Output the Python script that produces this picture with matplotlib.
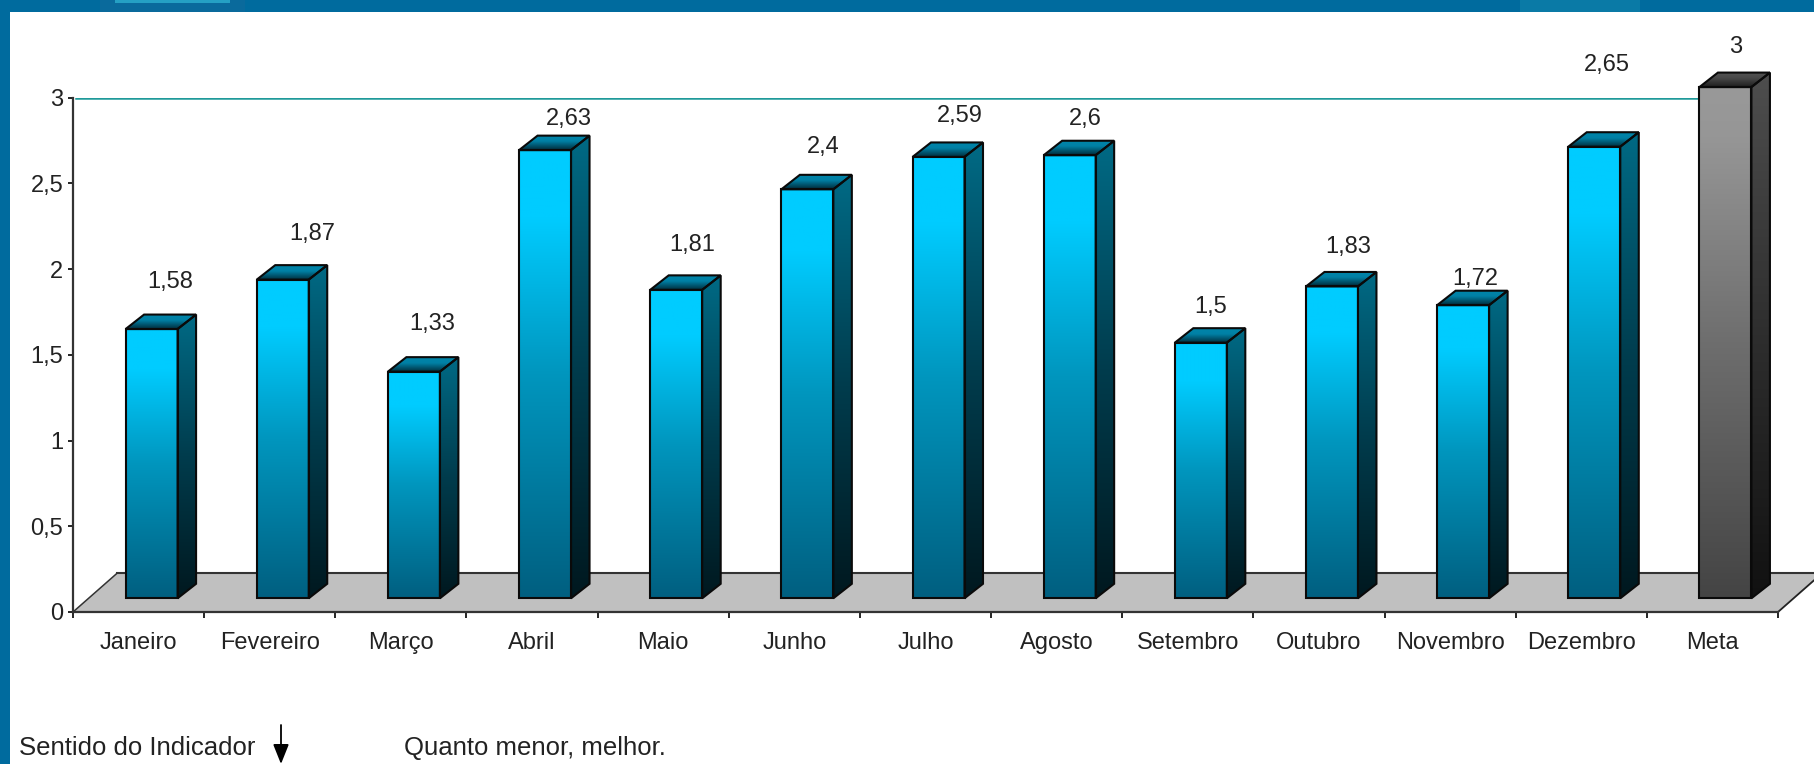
import matplotlib
matplotlib.use("Agg")
import matplotlib.pyplot as plt
import numpy as np
from matplotlib.colors import LinearSegmentedColormap
from matplotlib.patches import Polygon, Rectangle

#-------------------------------------------------------------------------------

meses = ["Janeiro", "Fevereiro", "Março", "Abril", "Maio", "Junho", "Julho",
         "Agosto", "Setembro", "Outubro", "Novembro", "Dezembro", "Meta"]
valores = [1.58, 1.87, 1.33, 2.63, 1.81, 2.4, 2.59, 2.6, 1.5, 1.83, 1.72, 2.65, 3]
rotulos = ["1,58", "1,87", "1,33", "2,63", "1,81", "2,4", "2,59", "2,6", "1,5",
           "1,83", "1,72", "2,65", "3"]
y_ticks = [0, 0.5, 1, 1.5, 2, 2.5, 3]
y_ticklabels = ["0", "0,5", "1", "1,5", "2", "2,5", "3"]
meta = 3

# Hand placed value labels, pixels from the top front edge of each bar
label_dx = [19, 29.5, 18.6, 23.5, 16, 15.6, 21, 16, 10, 16, 12, 13, 10.6]
label_dy = [47, 45.8, 47.3, 31.5, 44.8, 42, 40.6, 36.7, 35.7, 39, 26.5, 81.5, 39.8]

W, H = 1814, 764
X0, X1 = 73, 1778     # axes edges in pixels
Y0, Y3 = 612, 97.7
PX_X = (X1 - X0) / 13.
PX_Y = (Y0 - Y3) / 3.

FRAME = "#006B9E"
TEXT = "#222222"
FONT = 17

# (position, colour), 0 is the bottom of the face
blue_front = [(0, "#005F80"), (0.5, "#0096BE"), (0.85, "#00CCFF"), (1, "#00CCFF")]
blue_side = [(0, "#00181F"), (0.5, "#003C4D"), (1, "#006A85")]
blue_top = [(0, "#002C3A"), (0.6, "#0080A5"), (1, "#0086AA")]
gray_front = [(0, "#444444"), (0.5, "#6E6E6E"), (0.9, "#969696"), (1, "#999999")]
gray_side = [(0, "#111111"), (0.5, "#2E2E2E"), (1, "#4E4E4E")]
gray_top = [(0, "#1E1E1E"), (0.6, "#484848"), (1, "#555555")]

#-------------------------------------------------------------------------------

def fill_face(ax, corners, colors):
  """ Fill a polygon with a vertical gradient, low values at the bottom.
  """
  corners = np.array(corners)
  cmap = LinearSegmentedColormap.from_list("face", colors)
  grad = np.linspace(0, 1, 256).reshape(-1, 1)
  extent = [corners[:,0].min(), corners[:,0].max(),
            corners[:,1].min(), corners[:,1].max()]
  img = ax.imshow(grad, origin="lower", extent=extent, cmap=cmap, aspect="auto",
                  zorder=3, interpolation="bilinear")
  poly = Polygon(corners, closed=True, fc="none", ec="#0A0A0A", lw=1.5, zorder=3.1,
                 joinstyle="miter", clip_on=False)
  ax.add_patch(poly)
  img.set_clip_box(ax.figure.bbox)
  img.set_clip_path(poly)

def draw_bar(ax, x, value, front, side, top):
  """ Draw one pseudo 3D bar, the front face starts above the axis line.
  """
  width = 52 / PX_X
  dx = 18.5 / PX_X
  dy = 14.5 / PX_Y
  base = 13.7 / PX_Y
  y_top = base + value * 0.994
  left = x - width / 2
  right = x + width / 2
  fill_face(ax, [(right, base), (right + dx, base + dy),
                 (right + dx, y_top + dy), (right, y_top)], side)
  fill_face(ax, [(left, y_top), (right, y_top),
                 (right + dx, y_top + dy), (left + dx, y_top + dy)], top)
  fill_face(ax, [(left, base), (right, base), (right, y_top), (left, y_top)], front)
  return y_top

def draw_floor(ax):
  """ Draw the grey floor with its back edge.
  """
  depth_x = 44 / PX_X
  depth_y = 38.7 / PX_Y
  ax.add_patch(Polygon([(0, 0), (13, 0), (13 + depth_x, depth_y), (depth_x, depth_y)],
                       closed=True, fc="#C0C0C0", ec="none", zorder=1, clip_on=False))
  ax.plot([depth_x, 13 + depth_x], [depth_y, depth_y], color="#333333", lw=1.5,
          zorder=1.5, clip_on=False)
  ax.plot([0, depth_x], [0, depth_y], color="#333333", lw=1.1, zorder=1.5)
  ax.plot([13, 13 + depth_x], [0, depth_y], color="#222222", lw=1.3, zorder=1.5,
          clip_on=False)

def draw_frame(fig):
  """ Draw the blue slide frame at the top and on the left.
  """
  for x, y, w, h, col in [(0, 752, W, 12, FRAME), (0, 0, 10, H, FRAME),
                          (100, 752, 145, 12, "#0A6A9C"),
                          (115, 761, 115, 3, "#25A0C4"),
                          (1520, 752, 120, 12, "#0A7AA6")]:
    fig.add_artist(Rectangle((x / W, y / H), w / W, h / H, fc=col, ec="none",
                             transform=fig.transFigure))

def main():
  plt.rcParams["font.family"] = ["Liberation Sans", "DejaVu Sans"]
  fig = plt.figure(figsize=(W / 100., H / 100.), dpi=100, facecolor="white")
  draw_frame(fig)

  ax = fig.add_axes([X0 / W, (H - Y0) / H, (X1 - X0) / W, (Y0 - Y3) / H])
  ax.patch.set_alpha(0)

  draw_floor(ax)
  ax.plot([3 / PX_X, 12.4], [meta, meta], color="#1F9A9A", lw=1.8, zorder=2)

  x = np.arange(len(meses)) + 0.5 + 13 / PX_X
  for i, (xi, val, txt) in enumerate(zip(x, valores, rotulos)):
    styles = (gray_front, gray_side, gray_top) if meses[i] == "Meta" \
             else (blue_front, blue_side, blue_top)
    y_top = draw_bar(ax, xi, val, *styles)
    ax.annotate(txt, (xi, y_top), xytext=(label_dx[i], label_dy[i]),
                textcoords="offset pixels", ha="center", va="center",
                fontsize=FONT, color=TEXT, annotation_clip=False, zorder=4)

  ax.set_xlim(0, 13)
  ax.set_ylim(0, 3)
  for side in ["top", "right"]:
    ax.spines[side].set_visible(False)
  for side in ["left", "bottom"]:
    ax.spines[side].set_linewidth(1.6)
    ax.spines[side].set_color("#333333")
    ax.spines[side].set_zorder(2.5)

  ax.set_yticks(y_ticks, y_ticklabels, fontsize=FONT, color=TEXT)
  ax.set_xticks(np.arange(14))
  ax.set_xticklabels([])
  ax.set_xticks(np.arange(13) + 0.5, meses, minor=True, fontsize=FONT, color=TEXT)
  ax.tick_params(axis="y", length=3.6, width=1.2, pad=3.5)
  ax.tick_params(axis="x", which="major", length=4, width=1.2)
  ax.tick_params(axis="x", which="minor", length=0, pad=14.5)

  fig.text(19 / W, 1 - 748 / H, "Sentido do Indicador", fontsize=18.5, color=TEXT,
           ha="left", va="center")
  fig.text(404 / W, 1 - 748 / H, "Quanto menor, melhor.", fontsize=18.5, color=TEXT,
           ha="left", va="center")
  ax.annotate("", xy=(281 / W, 1 - 764 / H), xytext=(281 / W, 1 - 725 / H),
              xycoords="figure fraction", textcoords="figure fraction",
              arrowprops=dict(arrowstyle="-|>,head_length=0.5,head_width=0.2", color="black",
                              lw=1.3, mutation_scale=24, shrinkA=0, shrinkB=0))

  fig.savefig("out.png", dpi=100)
  plt.close(fig)

if __name__ == "__main__":
  main()
